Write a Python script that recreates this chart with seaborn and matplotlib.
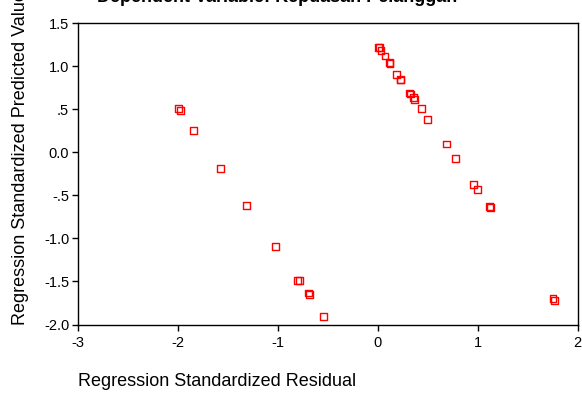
import pandas as pd
import matplotlib
matplotlib.use("Agg")
import matplotlib.pyplot as plt
import seaborn as sns

# standardized residuals (x) and standardized predicted values (y)
residual = [-1.994, -1.967, -1.84, -1.567, -1.307, -1.02, -0.80, -0.78, -0.694, -0.68, -0.54,
            0.007, 0.02, 0.034, 0.074, 0.118, 0.124, 0.191, 0.228, 0.232, 0.322, 0.332, 0.356,
            0.366, 0.436, 0.503, 0.687, 0.777, 0.962, 0.999, 1.119, 1.129, 1.755, 1.769]
predicted = [0.512, 0.484, 0.256, -0.183, -0.621, -1.09, -1.485, -1.485, -1.633, -1.648, -1.907,
             1.220, 1.215, 1.180, 1.119, 1.041, 1.029, 0.905, 0.850, 0.842, 0.690, 0.678, 0.640,
             0.616, 0.507, 0.386, 0.098, -0.070, -0.370, -0.434, -0.633, -0.644, -1.697, -1.721]

x_ticks = [-3, -2, -1, 0, 1, 2]
y_ticks = [1.5, 1.0, 0.5, 0.0, -0.5, -1.0, -1.5, -2.0]
y_labels = ["1.5", "1.0", ".5", "0.0", "-.5", "-1.0", "-1.5", "-2.0"]

df = pd.DataFrame({"resid": residual, "pred": predicted})

sns.set_style("white")
plt.rcParams["font.family"] = ["Liberation Sans", "DejaVu Sans"]
plt.rcParams["text.color"] = "black"

fig = plt.figure(figsize=(5.82, 3.99), dpi=100)
ax = fig.add_axes([0.1332, 0.1867, 0.8591, 0.7549])

sns.scatterplot(data=df, x="resid", y="pred", ax=ax, marker="s", s=24,
                facecolor="none", edgecolor="#ff0000", linewidth=1.0)

ax.set_xlim(-3, 2)
ax.set_ylim(-2.0, 1.5)
ax.set_xticks(x_ticks)
ax.set_xticklabels([str(t) for t in x_ticks])
ax.set_yticks(y_ticks)
ax.set_yticklabels(y_labels)
ax.tick_params(axis="both", direction="out", length=4, width=1, colors="black",
               labelcolor="black", labelsize=10.5, left=True, bottom=True)
ax.tick_params(axis="x", pad=4)
ax.tick_params(axis="y", pad=2)
for sp in ax.spines.values():
    sp.set_color("black")
    sp.set_linewidth(1.0)
ax.set_xlabel("")
ax.set_ylabel("")

fig.text(0.134, 0.043, "Regression Standardized Residual", fontsize=13,
         color="black", ha="left", va="center")
fig.text(0.036, 0.1855, "Regression Standardized Predicted Value", fontsize=13,
         color="black", rotation=90, ha="center", va="bottom")
fig.text(0.167, 0.996, "Dependent Variable: Kepuasan Pelanggan", fontsize=13,
         color="black", fontweight="bold", ha="left", va="baseline")

fig.savefig("out.png", dpi=100)
